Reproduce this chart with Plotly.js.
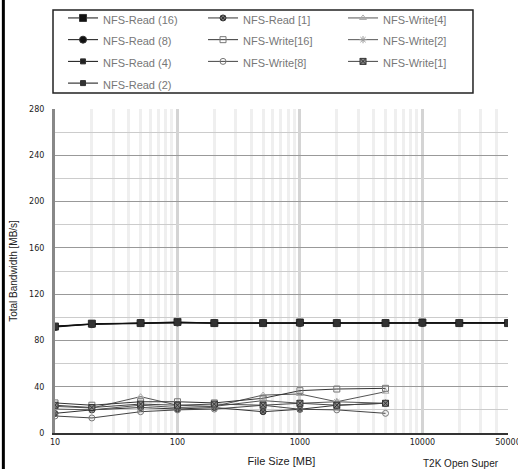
<!DOCTYPE html>
<html>
<head>
<meta charset="utf-8">
<script src="https://cdn.plot.ly/plotly-3.0.1.min.js"></script>
<style>html,body{margin:0;padding:0;background:#fff}#chart{width:518px;height:469px}</style>
</head>
<body>
<div id="chart"></div>
<script>
// File sizes [MB]
const sizesLong = [10, 20, 50, 100, 200, 500, 1000, 2000, 5000, 10000, 20000, 50000];
const sizesShort = [10, 20, 50, 100, 200, 500, 1000, 2000, 5000];

// Total bandwidth [MB/s]
const read16 = [92, 94.5, 95, 96, 95, 95, 95.5, 95, 95, 95.5, 95, 95];
const read8  = [91.5, 94, 95, 95.5, 95, 95, 95, 95, 95, 95, 95, 95];
const read4  = [92.5, 94, 94.5, 95.5, 95, 95, 95, 95, 95.5, 95, 95, 95.5];
const read2  = [92, 94, 95, 95, 95, 95, 95, 95, 95, 95, 95, 95];
const read1   = [17, 20, 22, 20.7, 22, 18.4, 20.5, 24, 25.7];
const write16 = [26, 24, 27, 27, 26, 30, 36.6, 38, 38.6];
const write8  = [14.7, 13, 18.4, 20, 20.7, 24, 20.5, 20, 17];
const write4  = [23, 21.6, 31.4, 24, 23, 32.8, 33.7, 27, 35.7];
const write2  = [20.7, 20, 24, 22, 23, 28, 25.7, 27, 25.7];
const write1  = [24, 22, 25, 24, 25, 24, 25.7, 24, 25.7];

const tickVals = [10, 100, 1000, 10000, 50000];
const tickText = ['10', '100', '1000', '10000', '50000'];
const yTicks = [0, 40, 80, 120, 160, 200, 240, 280];

function tr(name, x, y, symbol, color, size, lineColor) {
  return {
    type: 'scatter', mode: 'lines+markers',
    name: '<span style="font-size:11px">' + name + '</span>', x: x, y: y,
    line: {color: lineColor || '#111', width: 1},
    marker: {symbol: symbol, size: size || 6, color: color, line: {color: '#333', width: 1}}
  };
}

// Order chosen so that a row-wise legend shows three columns as in the reference
const data = [
  tr('NFS-Read (16)', sizesLong, read16, 'square', '#111', 7),
  tr('NFS-Read [1]', sizesShort, read1, 'circle-x', '#777', 6, '#333'),
  tr('NFS-Write[4]', sizesShort, write4, 'triangle-up-open', '#aaa', 6, '#555'),
  tr('NFS-Read (8)', sizesLong, read8, 'circle', '#111', 7),
  tr('NFS-Write[16]', sizesShort, write16, 'square-open', '#777', 6, '#333'),
  tr('NFS-Write[2]', sizesShort, write2, 'asterisk-open', '#999', 6, '#555'),
  tr('NFS-Read (4)', sizesLong, read4, 'square', '#222', 5),
  tr('NFS-Write[8]', sizesShort, write8, 'circle-open', '#777', 6, '#444'),
  tr('NFS-Write[1]', sizesShort, write1, 'square-x', '#888', 6, '#444'),
  tr('NFS-Read (2)', sizesLong, read2, 'square', '#333', 5)
];
data.forEach(d => { d.marker.line.color = d.marker.symbol.indexOf('open') >= 0 ? d.marker.color : '#333'; });

const layout = {
  width: 518, height: 469,
  margin: {l: 55, r: 10, t: 109, b: 36, autoexpand: false},
  paper_bgcolor: '#fff', plot_bgcolor: '#fff',
  font: {family: 'Liberation Sans, Arial, sans-serif', color: '#222'},
  showlegend: true,
  legend: {
    orientation: 'h', x: 0.0177, xanchor: 'left', y: 1.330, yanchor: 'top',
    entrywidth: 95, entrywidthmode: 'pixels',
    bgcolor: 'rgba(0,0,0,0)', borderwidth: 0,
    font: {size: 14.4, color: '#777'}, traceorder: 'normal'
  },
  xaxis: {
    type: 'log', range: [1, Math.log10(50000)],
    tickvals: tickVals, ticktext: tickText, ticks: '',
    ticklabeloverflow: 'allow',
    tickfont: {size: 8, color: '#222', family: 'DejaVu Sans, sans-serif'},
    showgrid: true, gridcolor: '#d4d4d4', gridwidth: 3,
    minor: {dtick: 'D1', showgrid: true, gridcolor: '#efefef', gridwidth: 3, ticks: ''},
    showline: true, linecolor: '#333', linewidth: 2, mirror: false,
    zeroline: false,
    title: {text: 'File Size [MB]', font: {size: 11, color: '#222'}, standoff: 12}
  },
  yaxis: {
    range: [0, 280], tickvals: yTicks, ticks: '',
    tickfont: {size: 8, color: '#222', family: 'DejaVu Sans, sans-serif'},
    ticklabelstandoff: 6,
    showgrid: true, gridcolor: '#999', gridwidth: 1,
    minor: {dtick: 20, showgrid: true, gridcolor: '#cccccc', gridwidth: 1, ticks: ''},
    showline: true, linecolor: '#888', linewidth: 3,
    zeroline: false,
    title: {text: 'Total Bandwidth [MB/s]', font: {size: 10, color: '#222'}, standoff: 10}
  },
  shapes: [
    {type: 'line', xref: 'paper', yref: 'paper', x0: -0.114, x1: -0.114, y0: -0.12, y1: 1.4, line: {color: '#000', width: 3}},
    {type: 'rect', xref: 'paper', yref: 'paper', x0: -0.0044, x1: 0.9227, y0: 1.0494, y1: 1.3056,
     line: {color: '#222', width: 1.5}, fillcolor: 'rgba(0,0,0,0)', layer: 'above'}
  ],
  annotations: [
    {text: 'T2K Open Super', xref: 'paper', yref: 'paper', x: 0.808, y: -0.07, xanchor: 'left', yanchor: 'top',
     showarrow: false, font: {size: 10, color: '#222'}}
  ]
};

Plotly.newPlot('chart', data, layout, {displayModeBar: false, staticPlot: true});
</script>
</body>
</html>
